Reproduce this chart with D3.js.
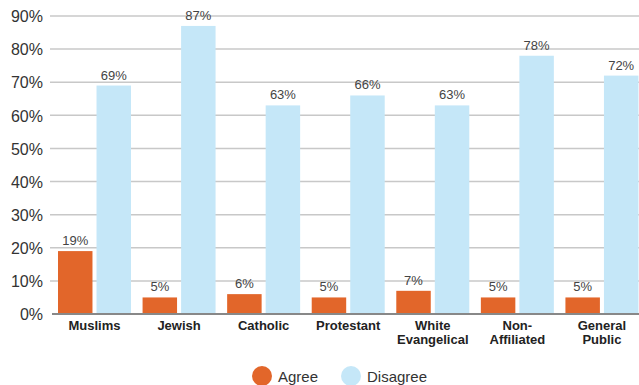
<!DOCTYPE html>
<html><head><meta charset="utf-8">
<script src="https://cdn.jsdelivr.net/npm/d3@7"></script>
<style>
html,body{margin:0;padding:0;background:#fff;}
svg{display:block;}
</style></head>
<body>
<svg id="chart" width="639" height="385"></svg>
<script>
const categories = [["Muslims"],["Jewish"],["Catholic"],["Protestant"],["White","Evangelical"],["Non-","Affiliated"],["General","Public"]];
const seriesNames = ["Agree","Disagree"];
const agree = [19,5,6,5,7,5,5];
const disagree = [69,87,63,66,63,78,72];
const yTicks = [0,10,20,30,40,50,60,70,80,90];
const colors = ["#E2662A","#C5E7F8"];

const svg = d3.select("#chart");
const catKeys = categories.map(c => c.join(" "));
const x = d3.scaleBand().domain(catKeys).range([52, 644]).paddingInner(0).paddingOuter(0);
const xs = d3.scaleBand().domain(seriesNames).range([6, 79]).paddingInner(0.105).paddingOuter(0);
const y = d3.scaleLinear().domain([0,90]).range([314,16]);

// gridlines
svg.append("g").selectAll("line").data(yTicks.filter(t=>t>0)).join("line")
  .attr("x1",50).attr("x2",639)
  .attr("y1",d=>y(d)).attr("y2",d=>y(d))
  .attr("stroke","#c8c8c8").attr("stroke-width",1.5);

// y axis labels
const yAxis = d3.axisLeft(y).tickValues(yTicks).tickFormat(d=>d+"%").tickSize(0).tickPadding(0);
const ya = svg.append("g").attr("transform","translate(43,0)").call(yAxis);
ya.select(".domain").remove();
ya.selectAll("text").attr("font-family","'Liberation Sans', Arial, sans-serif").attr("font-size",16).attr("fill","#333").attr("dy","0.36em");

const data = [agree, disagree];
const groups = svg.append("g").selectAll("g").data(catKeys).join("g")
  .attr("transform",d=>`translate(${x(d)},0)`);

groups.each(function(cat, i){
  const g = d3.select(this);
  seriesNames.forEach((s, j) => {
    const v = data[j][i];
    g.append("rect")
      .attr("x", xs(s)).attr("width", xs.bandwidth())
      .attr("y", y(v)).attr("height", y(0)-y(v))
      .attr("fill", colors[j]);
    g.append("text")
      .attr("x", xs(s)+xs.bandwidth()/2).attr("y", y(v)-6)
      .attr("text-anchor","middle")
      .attr("font-family","'Liberation Sans', Arial, sans-serif").attr("font-size",13)
      .attr("fill","#444").text(v+"%");
  });
  const lines = categories[i];
  const t = g.append("text").attr("text-anchor","middle")
    .attr("font-family","'Liberation Sans', Arial, sans-serif").attr("font-size",13)
    .attr("font-weight","bold").attr("fill","#222");
  lines.forEach((l, k) => {
    t.append("tspan").attr("x", 42.5).attr("y", 330 + k*14).text(l);
  });
});

// baseline
svg.append("line").attr("x1",52).attr("x2",639).attr("y1",y(0)).attr("y2",y(0))
  .attr("stroke","#888").attr("stroke-width",2);

// legend
const legend = svg.append("g");
const legX = [262, 351];
seriesNames.forEach((s, j) => {
  legend.append("circle").attr("cx",legX[j]).attr("cy",376).attr("r",10).attr("fill",colors[j]);
  legend.append("text").attr("x",legX[j]+16).attr("y",381.5)
    .attr("font-family","'Liberation Sans', Arial, sans-serif").attr("font-size",15)
    .attr("fill","#333").text(s);
});
</script>
</body></html>
